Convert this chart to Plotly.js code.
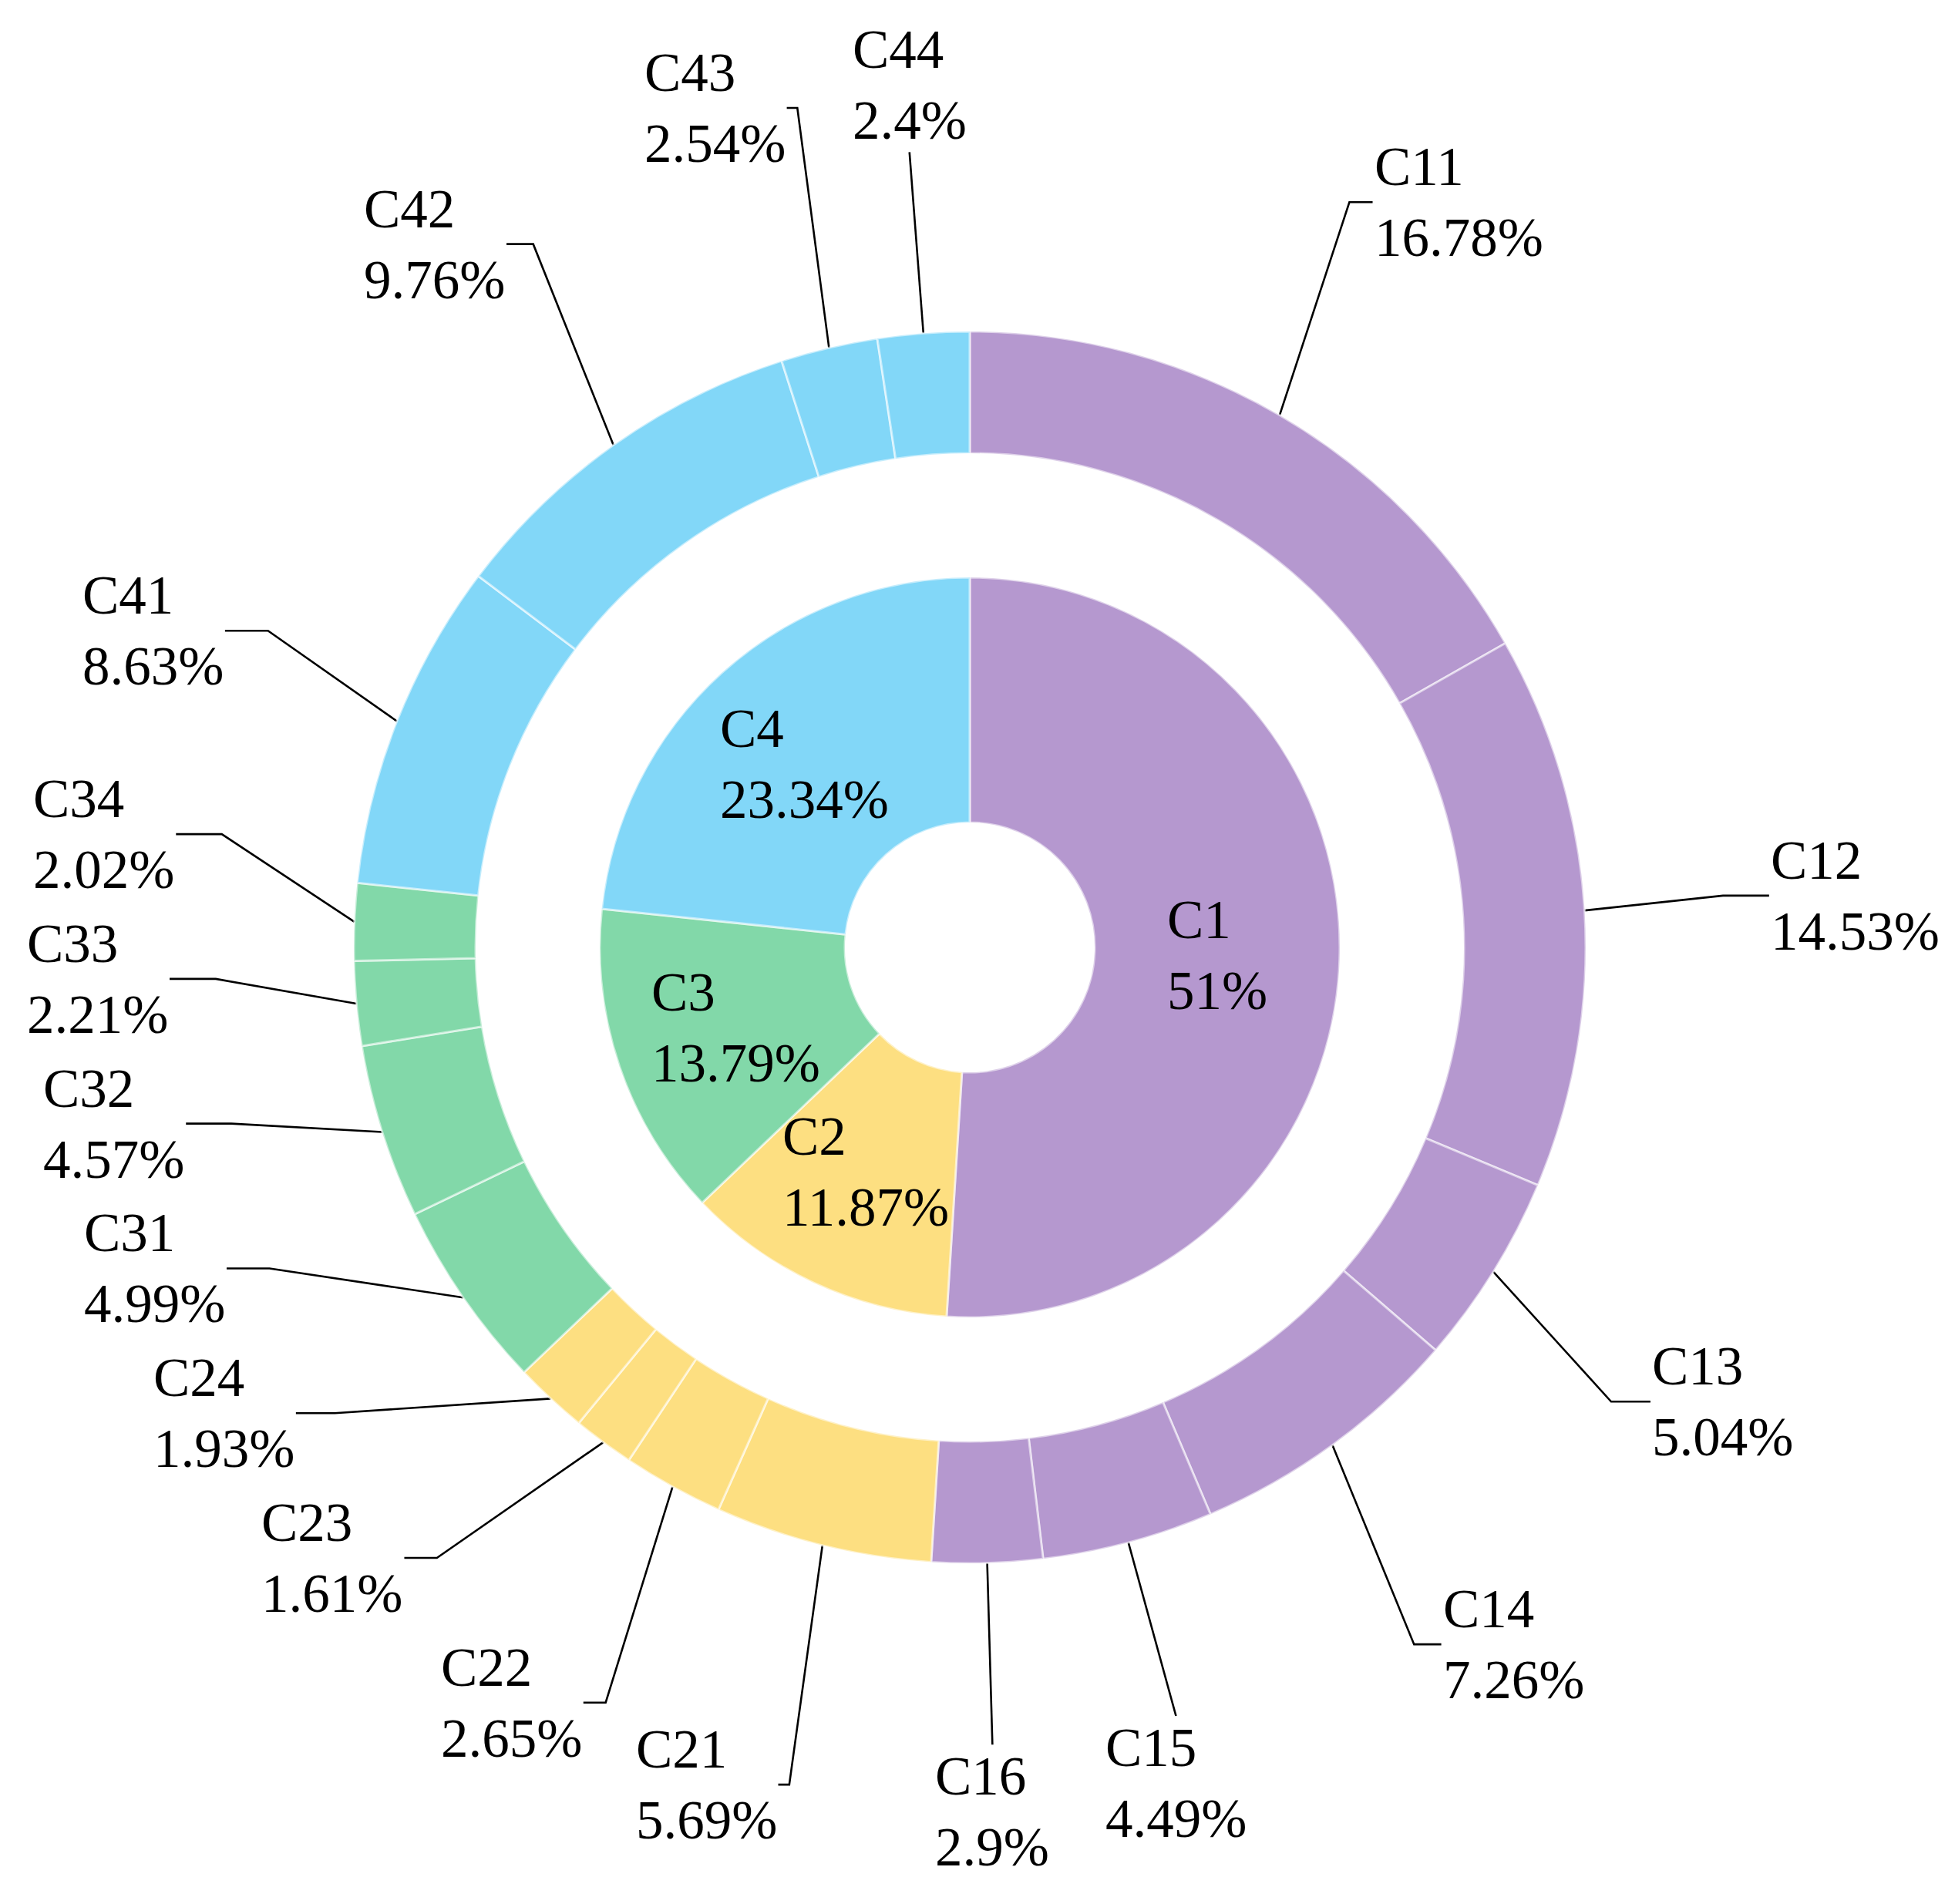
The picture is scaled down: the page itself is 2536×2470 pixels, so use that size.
<!DOCTYPE html>
<html>
<head>
<meta charset="utf-8">
<script src="https://cdn.plot.ly/plotly-3.0.1.min.js"></script>
<style>
html,body{margin:0;padding:0;background:#ffffff;}
#chart{width:2536px;height:2470px;}
</style>
</head>
<body>
<div id="chart"></div>
<script>
// ---------------- data ----------------
const innerLabels = ['C1', 'C2', 'C3', 'C4'];
const innerValues = [51, 11.87, 13.79, 23.34];

const outerLabels = ['C11', 'C12', 'C13', 'C14', 'C15', 'C16',
                     'C21', 'C22', 'C23', 'C24',
                     'C31', 'C32', 'C33', 'C34',
                     'C41', 'C42', 'C43', 'C44'];
const outerValues = [16.78, 14.53, 5.04, 7.26, 4.49, 2.9,
                     5.69, 2.65, 1.61, 1.93,
                     4.99, 4.57, 2.21, 2.02,
                     8.63, 9.76, 2.54, 2.4];
const outerGroups = ['C1', 'C1', 'C1', 'C1', 'C1', 'C1',
                     'C2', 'C2', 'C2', 'C2',
                     'C3', 'C3', 'C3', 'C3',
                     'C4', 'C4', 'C4', 'C4'];

// ---------------- styles / layout ----------------
const groupColors = {C1: '#B598CF', C2: '#FDDF81', C3: '#82D8A9', C4: '#82D7F8'};
const centeredLabels = ['C15', 'C16', 'C44'];

const W = 2536, H = 2470;
const CX = 1258, CY = 1229;          // pie centre in pixels
const R_OUT = 799, R_OUT_IN = 641;   // outer ring radii
const R_IN = 480, R_HOLE = 162;      // inner ring radii
const FONT = 'Liberation Serif, "Times New Roman", serif';
const FSIZE = 71;
const KC = 1.225, KT = 1.3, KY = 1.4, MIN_GAP = 0.235;
const edgeLine = {color: 'rgba(255,255,255,0.55)', width: 3};

// axis coordinates: centre = (0,0), 1 unit = outer radius
const U = R_OUT;
const xRange = [-CX / U, (W - CX) / U];
const yRange = [-(H - CY) / U, CY / U];

function domainFor(r) {
  return {
    x: [(CX - r) / W, (CX + r) / W],
    y: [(H - CY - r) / H, (H - CY + r) / H]
  };
}

const measureCtx = document.createElement('canvas').getContext('2d');
measureCtx.font = FSIZE + 'px "Liberation Serif"';
function textW(s) { return measureCtx.measureText(s).width / U; }

// ---------------- traces ----------------
const traces = [];
traces.push({
  type: 'pie', labels: innerLabels, values: innerValues,
  sort: false, direction: 'clockwise', rotation: 0,
  hole: R_HOLE / R_IN, domain: domainFor(R_IN),
  marker: {colors: innerLabels.map(l => groupColors[l]), line: edgeLine},
  textinfo: 'none', hoverinfo: 'skip', showlegend: false
});
traces.push({
  type: 'pie', labels: outerLabels, values: outerValues,
  sort: false, direction: 'clockwise', rotation: 0,
  hole: R_OUT_IN / R_OUT, domain: domainFor(R_OUT),
  marker: {colors: outerGroups.map(g => groupColors[g]), line: edgeLine},
  textinfo: 'none', hoverinfo: 'skip', showlegend: false
});

const annotations = [];
const textFont = {family: FONT, size: FSIZE, color: '#000000'};

// inner labels, centred in the ring
(function () {
  const total = innerValues.reduce((a, b) => a + b, 0);
  let cum = 0;
  const rMid = (R_HOLE + R_IN) / 2 / U;
  innerValues.forEach((v, i) => {
    const th = (cum + v / 2) / total * 2 * Math.PI;
    cum += v;
    annotations.push({
      xref: 'x', yref: 'y', x: rMid * Math.sin(th), y: rMid * Math.cos(th),
      text: innerLabels[i] + '<br>' + v + '%', showarrow: false,
      xanchor: 'center', yanchor: 'middle', align: 'left', font: textFont
    });
  });
})();

// outer labels with leader lines
(function () {
  const total = outerValues.reduce((a, b) => a + b, 0);
  let cum = 0;
  const items = outerValues.map((v, i) => {
    const th = (cum + v / 2) / total * 2 * Math.PI;
    cum += v;
    const pct = v + '%';
    return {
      label: outerLabels[i], pct: pct, th: th,
      side: Math.sin(th) >= 0 ? 1 : -1,
      centered: centeredLabels.indexOf(outerLabels[i]) >= 0,
      y: KY * Math.cos(th),
      w: Math.max(textW(outerLabels[i]), textW(pct))
    };
  });

  // avoid overlaps on each side: push labels upward, keep them on an ellipse
  [-1, 1].forEach(side => {
    const list = items.filter(d => !d.centered && d.side === side).sort((a, b) => a.y - b.y);
    const placed = [];
    list.forEach(d => {
      let guard = 0, changed = true;
      while (changed && guard++ < 60) {
        changed = false;
        const s = Math.sqrt(Math.max(0, 1 - Math.pow(d.y / KY, 2)));
        d.xc = side * KC * s;
        d.xt = side * KT * s;
        d.box = side > 0 ? [d.xt, d.xt + d.w] : [d.xt - d.w, d.xt];
        for (const p of placed) {
          const hOverlap = d.box[0] < p.box[1] + 0.02 && p.box[0] < d.box[1] + 0.02;
          if (hOverlap && Math.abs(d.y - p.y) < MIN_GAP) {
            d.y = p.y + MIN_GAP;
            changed = true;
            break;
          }
        }
      }
      placed.push(d);
    });
  });

  items.forEach(d => {
    const xw = Math.sin(d.th), yw = Math.cos(d.th);
    let xs, ys;
    if (d.centered) {
      const xt = KT * Math.sin(d.th);
      const below = d.y < 0;
      const yEnd = below ? d.y + 0.105 : d.y - 0.105;
      xs = [xw, xt]; ys = [yw, yEnd];
      annotations.push({
        xref: 'x', yref: 'y', x: xt, y: yEnd,
        text: d.label + '<br>' + d.pct, showarrow: false,
        xanchor: 'center', yanchor: below ? 'top' : 'bottom', align: 'left', font: textFont
      });
    } else {
      xs = [xw, d.xc, d.xt]; ys = [yw, d.y, d.y];
      annotations.push({
        xref: 'x', yref: 'y', x: d.xt, y: d.y,
        text: d.label + '<br>' + d.pct, showarrow: false,
        xanchor: d.side > 0 ? 'left' : 'right', yanchor: 'middle', align: 'left', font: textFont
      });
    }
    traces.push({
      type: 'scatter', mode: 'lines', x: xs, y: ys,
      line: {color: '#000000', width: 2.6}, hoverinfo: 'skip', showlegend: false
    });
  });
})();

const layout = {
  width: W, height: H, autosize: false,
  margin: {l: 0, r: 0, t: 0, b: 0, pad: 0},
  paper_bgcolor: '#ffffff', plot_bgcolor: 'rgba(0,0,0,0)',
  showlegend: false,
  xaxis: {range: xRange, visible: false, fixedrange: true, domain: [0, 1]},
  yaxis: {range: yRange, visible: false, fixedrange: true, domain: [0, 1]},
  annotations: annotations,
  font: {family: FONT}
};

Plotly.newPlot('chart', traces, layout, {staticPlot: true, displayModeBar: false});
</script>
</body>
</html>
